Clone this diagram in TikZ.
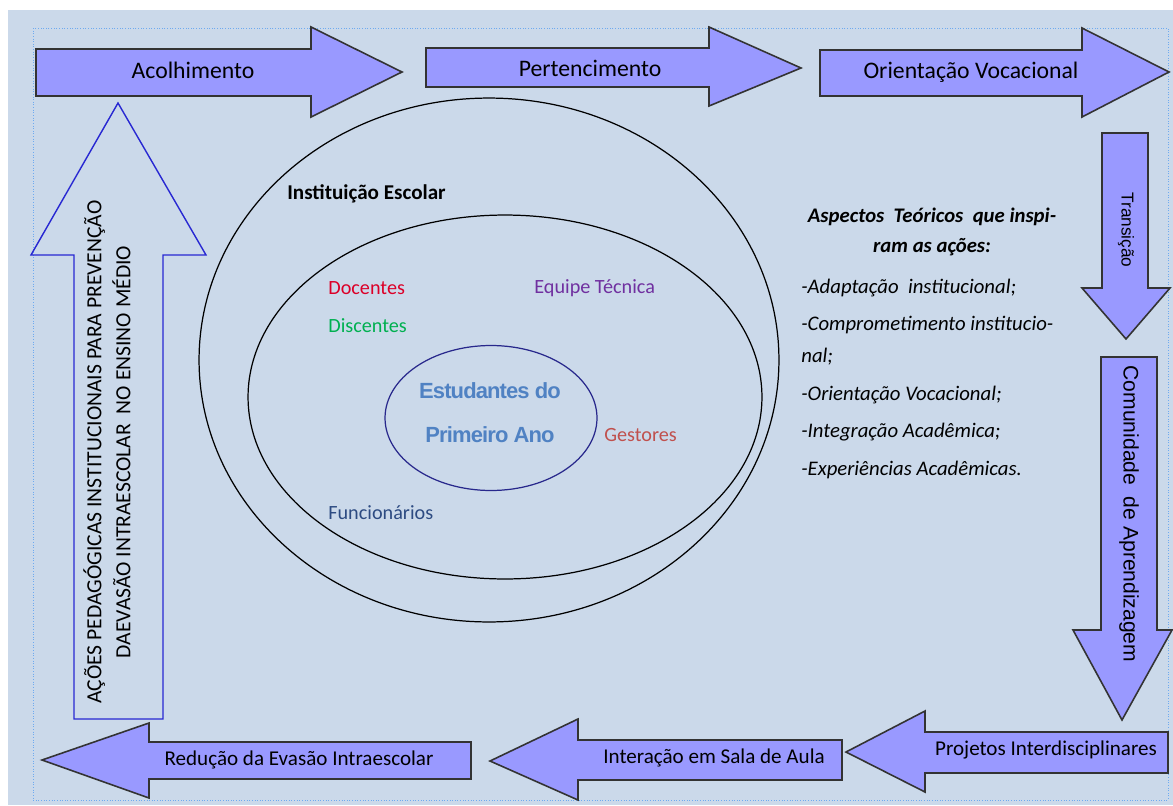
\documentclass[tikz,border=0pt]{standalone}
\usepackage{fontspec}
\setmainfont{Carlito}
\newfontfamily\arialfont{Liberation Sans}
\newfontfamily\arialtight[LetterSpace=-4]{Liberation Sans}
\usetikzlibrary{shapes.geometric}

\definecolor{bgblue}{RGB}{203,217,234}
\definecolor{arrowfill}{RGB}{153,153,255}
\definecolor{dotblue}{RGB}{110,170,240}
\definecolor{outlineblue}{RGB}{40,40,210}
\definecolor{ringblue}{RGB}{40,40,140}
\definecolor{docred}{RGB}{220,0,40}
\definecolor{discgreen}{RGB}{0,176,80}
\definecolor{equipurple}{RGB}{112,48,160}
\definecolor{gestbrown}{RGB}{192,80,77}
\definecolor{funcblue}{RGB}{45,75,130}
\definecolor{estblue}{RGB}{80,130,195}

\tikzset{
  blockarrow/.style={fill=arrowfill, draw=black!80, line width=0.9pt, line join=miter},
  arrowlabel/.style={font=\fontsize{12}{14}\selectfont},
  toplabel/.style={font=\fontsize{13.5}{16}\selectfont},
  ringlabel/.style={anchor=west, inner xsep=0pt, font=\fontsize{11.5}{14}\selectfont},
  ring/.style={draw, ellipse, inner sep=0pt, line width=0.7pt},
  aspecto/.style={anchor=west, inner xsep=0pt, font=\fontsize{11.8}{13}\selectfont\itshape},
}

\begin{document}
\begin{tikzpicture}[x=0.02cm,y=-0.02cm]
% fundo
\fill[white] (0,0) rectangle (1173,805);
\fill[bgblue] (8,10) rectangle (1173,805);
\draw[dotblue, densely dotted, line width=0.5pt] (33,28) rectangle (1168,800);
\useasboundingbox (0,0) rectangle (1173,805);

% setas de cima
\draw[blockarrow] (36,49) -- (311,49) -- (311,27) -- (402,72) -- (311,117) -- (311,96) -- (36,96) -- cycle;
\node[toplabel] (acolhimento) at (193,70) {Acolhimento};
\draw[blockarrow] (426,48) -- (709,48) -- (709,27) -- (801,68) -- (709,106) -- (709,87) -- (426,87) -- cycle;
\node[toplabel] (pertencimento) at (590,68) {Pertencimento};
\draw[blockarrow] (820,50) -- (1082,50) -- (1082,28) -- (1169,72) -- (1082,117) -- (1082,96) -- (820,96) -- cycle;
\node[toplabel] (orientacao) at (971,72) {Orientação Vocacional};

% setas da direita
\draw[blockarrow] (1102,133) -- (1148,133) -- (1148,288) -- (1170,288) -- (1126,339) -- (1082,288) -- (1102,288) -- cycle;
\node[rotate=-90, font=\arialfont\fontsize{9.8}{11}\selectfont] (transicao) at (1126,230) {Transição};
\draw[blockarrow] (1101,357) -- (1157,357) -- (1157,630) -- (1172,630) -- (1122,720) -- (1073,630) -- (1101,630) -- cycle;
\node[rotate=-90, font=\arialfont\fontsize{12}{14}\selectfont] (comunidade) at (1129,514) {Comunidade\ \ de Aprendizagem};

% setas de baixo
\draw[blockarrow] (1168,732) -- (925,732) -- (925,711) -- (846,752) -- (925,792) -- (925,773) -- (1168,773) -- cycle;
\node[arrowlabel] (projetos) at (1046,750) {Projetos Interdisciplinares};
\draw[blockarrow] (842,740) -- (578,740) -- (578,719) -- (490,761) -- (578,800) -- (578,780) -- (842,780) -- cycle;
\node[arrowlabel] (interacao) at (714,758) {Interação em Sala de Aula};
\draw[blockarrow] (471,742) -- (149,742) -- (149,723) -- (42,760) -- (149,798) -- (149,779) -- (471,779) -- cycle;
\node[arrowlabel] (reducao) at (299,760) {Redução da Evasão Intraescolar};

% seta grande da esquerda
\draw[outlineblue, line width=0.8pt] (74,719) -- (74,255) -- (31,255) -- (118,103) -- (206,255) -- (163,255) -- (163,719) -- cycle;
\node[rotate=90, align=center, font=\fontsize{12.3}{16.5}\selectfont] (acoes) at (107,452)
  {AÇÕES PEDAGÓGICAS INSTITUCIONAIS PARA PREVENÇÃO\\DAEVASÃO INTRAESCOLAR\ \ NO ENSINO MÉDIO};

% elipses
\node[ring, minimum width=11.6cm, minimum height=10.48cm] (escola) at (489,360) {};
\node[ring, minimum width=10.28cm, minimum height=7.28cm] (comunidadeescolar) at (505,397) {};
\node[ring, draw=ringblue, minimum width=4.24cm, minimum height=2.9cm] (primeiroano) at (491,418) {};

\node[ringlabel, font=\fontsize{12}{14}\selectfont\bfseries] (instituicao) at (287,194) {Instituição Escolar};
\node[ringlabel, text=docred] (docentes) at (328,288) {Docentes};
\node[ringlabel, text=discgreen] (discentes) at (328,326) {Discentes};
\node[ringlabel, text=equipurple] (equipe) at (534,288) {Equipe Técnica};
\node[ringlabel, text=gestbrown] (gestores) at (604,435) {Gestores};
\node[ringlabel, text=funcblue] (funcionarios) at (328,513) {Funcionários};
\node[align=center, text=estblue, font=\arialtight\bfseries\fontsize{12.5}{25}\selectfont] (estudantes) at (490,413)
  {Estudantes do\\Primeiro Ano};

% aspectos teoricos
\node[align=center, font=\fontsize{11.8}{17.5}\selectfont\bfseries\itshape] (aspectos) at (932,232)
  {Aspectos\ \ Teóricos\ \ que inspi-\\ram as ações:};
\node[aspecto] (adaptacao) at (801,288) {-Adaptação\ \ institucional;};
\node[aspecto] (compromisso) at (801,325) {-Comprometimento institucio-};
\node[aspecto] (compromisso2) at (801,357) {nal;};
\node[aspecto] (vocacional) at (801,395) {-Orientação Vocacional;};
\node[aspecto] (integracao) at (801,432) {-Integração Acadêmica;};
\node[aspecto] (experiencias) at (801,470) {-Experiências Acadêmicas.};
\end{tikzpicture}
\end{document}
